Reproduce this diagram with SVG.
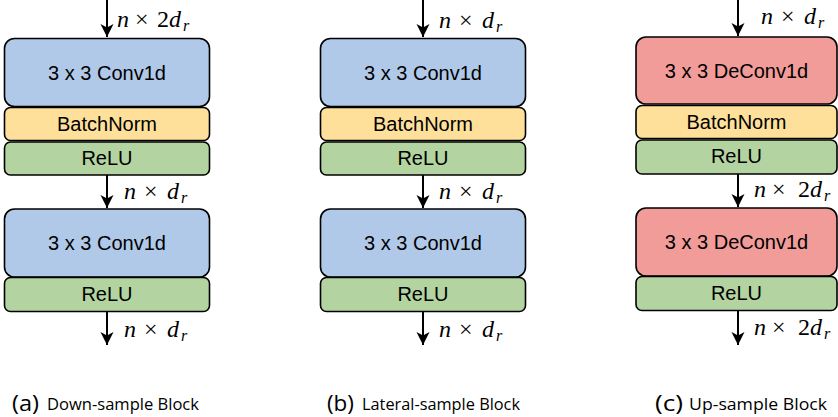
<svg xmlns="http://www.w3.org/2000/svg" width="838" height="417" viewBox="0 0 838 417">
<style>
.box{stroke:#000;stroke-width:1.6}
.conv{fill:#B1C9E8}
.deconv{fill:#F19C99}
.bn{fill:#FFE09B}
.relu{fill:#B3D4A1}
.t{font-family:"Liberation Sans",Arial,sans-serif;font-size:20px;text-anchor:middle;fill:#000}
.m{font-family:"Liberation Serif","DejaVu Serif",serif;font-size:24px;fill:#000}
.i{font-style:italic}
.s{font-style:italic;font-size:16px}
.edge{stroke:#000;stroke-width:2;fill:none}
.cap{font-family:"Open Sans","Noto Sans",sans-serif;font-size:16px;fill:#000}
.capl{font-family:"Open Sans","Noto Sans",sans-serif;font-size:21px;fill:#000}
</style>
<defs>
<marker id="ah" markerUnits="userSpaceOnUse" markerWidth="16" markerHeight="16" refX="0" refY="0" viewBox="-8 -14 16 16" orient="auto-start-reverse" overflow="visible">
<path d="M0,0 L-6.5,-13 L0,-9.5 L6.5,-13 Z" transform="rotate(-90)" fill="#000"/>
</marker>
</defs>

<g id="connectors">
<line class="edge" x1="107" y1="0" x2="107" y2="37" marker-end="url(#ah)"/>
<line class="edge" x1="107" y1="175" x2="107" y2="208" marker-end="url(#ah)"/>
<line class="edge" x1="107" y1="312" x2="107" y2="345" marker-end="url(#ah)"/>
<line class="edge" x1="423" y1="0" x2="423" y2="37" marker-end="url(#ah)"/>
<line class="edge" x1="423" y1="175" x2="423" y2="208" marker-end="url(#ah)"/>
<line class="edge" x1="423" y1="312" x2="423" y2="345" marker-end="url(#ah)"/>
<line class="edge" x1="738" y1="0" x2="738" y2="36" marker-end="url(#ah)"/>
<line class="edge" x1="738" y1="174" x2="738" y2="207" marker-end="url(#ah)"/>
<line class="edge" x1="738" y1="310" x2="738" y2="345" marker-end="url(#ah)"/>
</g>

<g id="labels">
<text class="m" y="27"><tspan class="i" x="117">n</tspan><tspan x="135">×</tspan><tspan x="157">2</tspan><tspan class="i" x="169">d</tspan><tspan class="s" x="183" dy="4">r</tspan></text>
<text class="m" y="199"><tspan class="i" x="124">n</tspan><tspan x="144">×</tspan><tspan class="i" x="167">d</tspan><tspan class="s" x="181" dy="4">r</tspan></text>
<text class="m" y="337"><tspan class="i" x="124">n</tspan><tspan x="144">×</tspan><tspan class="i" x="167">d</tspan><tspan class="s" x="181" dy="4">r</tspan></text>

<text class="m" y="28"><tspan class="i" x="439">n</tspan><tspan x="459">×</tspan><tspan class="i" x="482">d</tspan><tspan class="s" x="496" dy="4">r</tspan></text>
<text class="m" y="199"><tspan class="i" x="439">n</tspan><tspan x="459">×</tspan><tspan class="i" x="482">d</tspan><tspan class="s" x="496" dy="4">r</tspan></text>
<text class="m" y="337"><tspan class="i" x="439">n</tspan><tspan x="459">×</tspan><tspan class="i" x="482">d</tspan><tspan class="s" x="496" dy="4">r</tspan></text>

<text class="m" y="24"><tspan class="i" x="761">n</tspan><tspan x="781">×</tspan><tspan class="i" x="804">d</tspan><tspan class="s" x="818" dy="4">r</tspan></text>
<text class="m" y="197"><tspan class="i" x="754">n</tspan><tspan x="772">×</tspan><tspan x="798">2</tspan><tspan class="i" x="810">d</tspan><tspan class="s" x="824" dy="4">r</tspan></text>
<text class="m" y="335"><tspan class="i" x="754">n</tspan><tspan x="772">×</tspan><tspan x="798">2</tspan><tspan class="i" x="810">d</tspan><tspan class="s" x="824" dy="4">r</tspan></text>
</g>

<g id="a-conv1"><rect class="box conv" x="4.5" y="38.5" width="205" height="68" rx="10"/><text class="t" x="107" y="80">3 x 3 Conv1d</text></g>
<g id="a-bn"><rect class="box bn" x="4.5" y="107.5" width="205" height="33" rx="6"/><text class="t" x="107" y="131">BatchNorm</text></g>
<g id="a-relu1"><rect class="box relu" x="4.5" y="142" width="205" height="33" rx="6"/><text class="t" x="107" y="165">ReLU</text></g>
<g id="a-conv2"><rect class="box conv" x="4.5" y="209" width="205" height="68" rx="10"/><text class="t" x="107" y="250">3 x 3 Conv1d</text></g>
<g id="a-relu2"><rect class="box relu" x="4.5" y="277.5" width="205" height="34" rx="6"/><text class="t" x="107" y="301">ReLU</text></g>

<g id="b-conv1"><rect class="box conv" x="320.5" y="38.5" width="205" height="68" rx="10"/><text class="t" x="423" y="80">3 x 3 Conv1d</text></g>
<g id="b-bn"><rect class="box bn" x="320.5" y="107.5" width="205" height="33" rx="6"/><text class="t" x="423" y="131">BatchNorm</text></g>
<g id="b-relu1"><rect class="box relu" x="320.5" y="142" width="205" height="33" rx="6"/><text class="t" x="423" y="165">ReLU</text></g>
<g id="b-conv2"><rect class="box conv" x="320.5" y="209" width="205" height="68" rx="10"/><text class="t" x="423" y="250">3 x 3 Conv1d</text></g>
<g id="b-relu2"><rect class="box relu" x="320.5" y="277.5" width="205" height="34" rx="6"/><text class="t" x="423" y="301">ReLU</text></g>

<g id="c-deconv1"><rect class="box deconv" x="636" y="37" width="201" height="67" rx="10"/><text class="t" x="736.5" y="78">3 x 3 DeConv1d</text></g>
<g id="c-bn"><rect class="box bn" x="636" y="105.5" width="201" height="33" rx="6"/><text class="t" x="736.5" y="129">BatchNorm</text></g>
<g id="c-relu1"><rect class="box relu" x="636" y="140" width="201" height="34" rx="6"/><text class="t" x="736.5" y="163">ReLU</text></g>
<g id="c-deconv2"><rect class="box deconv" x="636" y="208" width="201" height="68" rx="10"/><text class="t" x="736.5" y="249">3 x 3 DeConv1d</text></g>
<g id="c-relu2"><rect class="box relu" x="636" y="276.5" width="201" height="34" rx="6"/><text class="t" x="736.5" y="300">ReLU</text></g>

<g id="captions">
<text class="capl" x="12" y="411" textLength="27" lengthAdjust="spacingAndGlyphs">(a)</text><text class="cap" x="47" y="410" textLength="152" lengthAdjust="spacingAndGlyphs">Down-sample Block</text>
<text class="capl" x="327" y="411" textLength="27" lengthAdjust="spacingAndGlyphs">(b)</text><text class="cap" x="362" y="410" textLength="158" lengthAdjust="spacingAndGlyphs">Lateral-sample Block</text>
<text class="capl" x="655" y="411" textLength="28" lengthAdjust="spacingAndGlyphs">(c)</text><text class="cap" x="689" y="410" textLength="138" lengthAdjust="spacingAndGlyphs">Up-sample Block</text>
</g>
</svg>
